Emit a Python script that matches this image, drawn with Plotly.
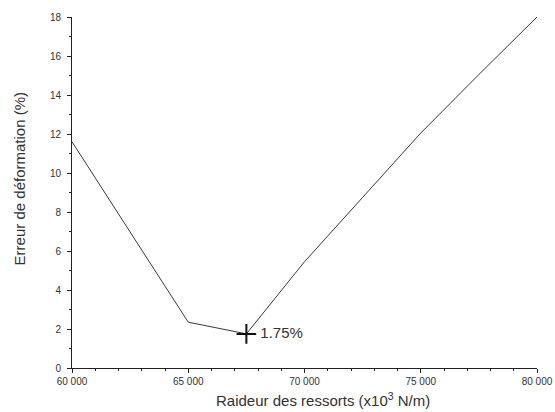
import plotly.graph_objects as go

# Spring stiffness (N/m x10^3) vs deformation error (%)
stiffness = [60000, 65000, 67500, 70000, 72500, 75000, 77500, 80000]
error_pct = [11.6, 2.35, 1.75, 5.45, 8.75, 12.05, 15.05, 18.0]

best_x = 67500
best_y = 1.75
best_label = "1.75%"

x_ticks = [60000, 65000, 70000, 75000, 80000]
x_ticklabels = ["60 000", "65 000", "70 000", "75 000", "80 000"]
y_ticks = [0, 2, 4, 6, 8, 10, 12, 14, 16, 18]

x_title = "Raideur des ressorts (x10<sup>3</sup> N/m)"
y_title = "Erreur de déformation (%)"

FONT = "Liberation Sans, Arial, sans-serif"

fig = go.Figure()
fig.add_trace(go.Scatter(
    x=stiffness, y=error_pct, mode="lines",
    line=dict(color="#3a3a3a", width=1),
    hoverinfo="skip", showlegend=False,
))
fig.add_trace(go.Scatter(
    x=[best_x], y=[best_y], mode="markers+text",
    marker=dict(symbol="cross-thin", size=14, line=dict(color="#111111", width=2)),
    text=[" " + best_label], textposition="middle right",
    textfont=dict(family=FONT, size=15, color="#333333"),
    showlegend=False,
))

axis_common = dict(
    showline=True, linecolor="#222222", linewidth=1,
    showgrid=False, zeroline=False, automargin=False,
    ticks="outside", ticklen=4, tickcolor="#222222",
    tickfont=dict(family=FONT, size=10, color="#333333"),
    mirror=False,
)

fig.update_xaxes(
    range=[60000, 80000], tickvals=x_ticks, ticktext=x_ticklabels,
    minor=dict(dtick=1000, ticks="outside", ticklen=2, tickcolor="#222222"),
    **axis_common,
)
fig.update_yaxes(
    range=[0, 18], tickvals=y_ticks, ticklabelstandoff=4,
    minor=dict(dtick=1, ticks="outside", ticklen=2, tickcolor="#222222"),
    **axis_common,
)

# Axis titles placed as paper annotations (slightly off-centre from the plot area)
fig.add_annotation(
    text=x_title, xref="paper", yref="paper", x=0.54, y=-0.091,
    xanchor="center", yanchor="middle", showarrow=False,
    font=dict(family=FONT, size=15, color="#333333"),
)
fig.add_annotation(
    text=y_title, xref="paper", yref="paper", x=-0.112, y=0.54,
    xanchor="center", yanchor="middle", showarrow=False, textangle=-90,
    font=dict(family=FONT, size=15, color="#333333"),
)

fig.update_layout(
    width=555, height=412,
    margin=dict(l=72, r=18, t=17, b=44),
    paper_bgcolor="white", plot_bgcolor="white",
    showlegend=False,
)

fig.write_html("out.html")
